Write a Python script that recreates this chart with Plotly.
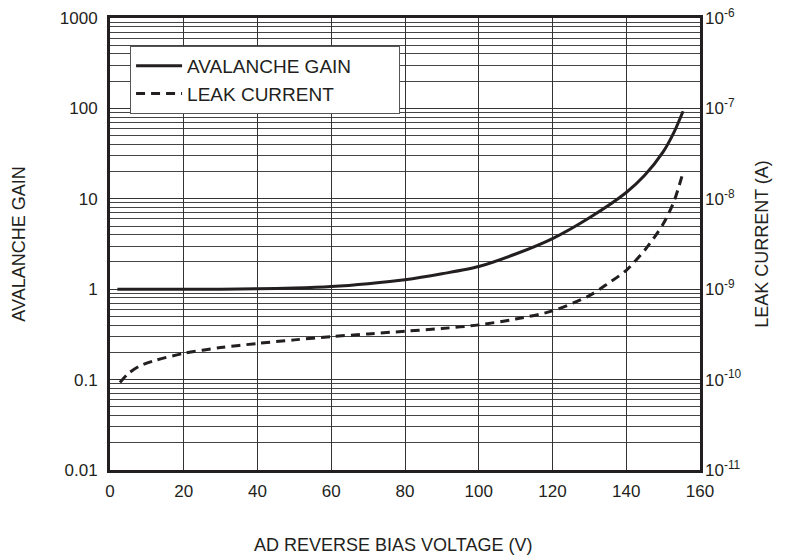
import plotly.graph_objects as go

# Data
gain_v = [2, 10, 20, 30, 40, 50, 60, 70, 80, 90, 100, 110, 120, 130, 140, 145, 150, 153, 155.4]
gain = [1.0, 1.0, 1.0, 1.0, 1.01, 1.03, 1.07, 1.15, 1.27, 1.48, 1.78, 2.45, 3.63, 6.17, 11.75, 18.2, 33, 55, 93]

leak_v = [2.7, 5, 8, 12, 20, 30, 40, 50, 60, 70, 80, 90, 100, 110, 120, 130, 135, 140, 145, 150, 153, 155.3]
leak = [9.3e-11, 1.17e-10, 1.41e-10, 1.62e-10, 1.95e-10, 2.26e-10, 2.51e-10, 2.75e-10, 2.99e-10,
        3.2e-10, 3.43e-10, 3.67e-10, 4.03e-10, 4.68e-10, 5.75e-10, 8.5e-10, 1.15e-9, 1.62e-9,
        2.7e-9, 5.25e-9, 9.5e-9, 1.9e-8]

x_ticks = [0, 20, 40, 60, 80, 100, 120, 140, 160]
left_tickvals = [0.01, 0.1, 1, 10, 100, 1000]
left_ticktext = ["0.01", "0.1", "1", "10", "100", "1000"]
right_tickvals = [1e-11, 1e-10, 1e-9, 1e-8, 1e-7, 1e-6]
right_ticktext = ["10<sup>-11</sup>", "10<sup>-10</sup>", "10<sup>-9</sup>",
                  "10<sup>-8</sup>", "10<sup>-7</sup>", "10<sup>-6</sup>"]

minor_vals = [m * 10 ** e for e in range(-2, 3) for m in range(2, 10)]

FONT = "Liberation Sans, Arial, sans-serif"
TXT = "#231f20"
PAD = "\u00a0" * 8

fig = go.Figure()
fig.add_trace(go.Scatter(x=gain_v, y=gain, mode="lines", name="AVALANCHE GAIN" + PAD,
                         line=dict(color="#231f20", width=3, shape="spline", smoothing=0.8),
                         yaxis="y"))
fig.add_trace(go.Scatter(x=leak_v, y=leak, mode="lines", name="LEAK CURRENT",
                         line=dict(color="#231f20", width=3, dash="9px,6px", shape="spline", smoothing=0.8),
                         yaxis="y2"))

fig.update_layout(
    width=785, height=559,
    margin=dict(l=110, r=85, t=18, b=89),
    paper_bgcolor="white", plot_bgcolor="white",
    font=dict(family=FONT, size=17, color=TXT),
    showlegend=True,
    legend=dict(x=0.034, y=0.938, xanchor="left", yanchor="top",
                bgcolor="white", bordercolor="#555", borderwidth=1,
                font=dict(size=19, family=FONT, color=TXT),
                itemwidth=46, tracegroupgap=0),
    xaxis=dict(range=[0, 160], tickvals=x_ticks, showgrid=True, gridcolor="#333", gridwidth=1,
               showline=True, linecolor="#231f20", linewidth=3, mirror=True,
               ticks="", ticklabelstandoff=4, zeroline=False, automargin=False,
               tickfont=dict(size=17, family=FONT, color=TXT)),
    yaxis=dict(type="log", range=[-2, 3], tickvals=left_tickvals, ticktext=left_ticktext,
               showgrid=True, gridcolor="#333", gridwidth=1,
               minor=dict(tickvals=minor_vals, showgrid=True, gridcolor="#444", gridwidth=1, ticks=""),
               showline=True, linecolor="#231f20", linewidth=3, mirror=True,
               ticks="", ticklabelstandoff=6, automargin=False, ticklabeloverflow="allow",
               title=dict(text="AVALANCHE GAIN", font=dict(size=18, family=FONT, color=TXT), standoff=30),
               tickfont=dict(size=17, family=FONT, color=TXT)),
    yaxis2=dict(type="log", range=[-11, -6], overlaying="y", side="right",
                tickvals=right_tickvals, ticktext=right_ticktext, automargin=False,
                ticklabeloverflow="allow",
                showgrid=False, showline=False, ticks="", ticklabelstandoff=4,
                title=dict(text="LEAK CURRENT (A)", font=dict(size=18, family=FONT, color=TXT), standoff=14),
                tickfont=dict(size=17, family=FONT, color=TXT)),
    annotations=[dict(text="AD REVERSE BIAS VOLTAGE (V)", xref="paper", yref="paper",
                      x=0.479, y=0, yshift=-75, xanchor="center", yanchor="middle",
                      showarrow=False, font=dict(size=18, family=FONT, color=TXT))],
)

# remove the browser's default 8px body margin so the figure sits at the window origin
fig.write_html("out.html", config={"displayModeBar": False},
               post_script="document.body.style.margin='0';")
